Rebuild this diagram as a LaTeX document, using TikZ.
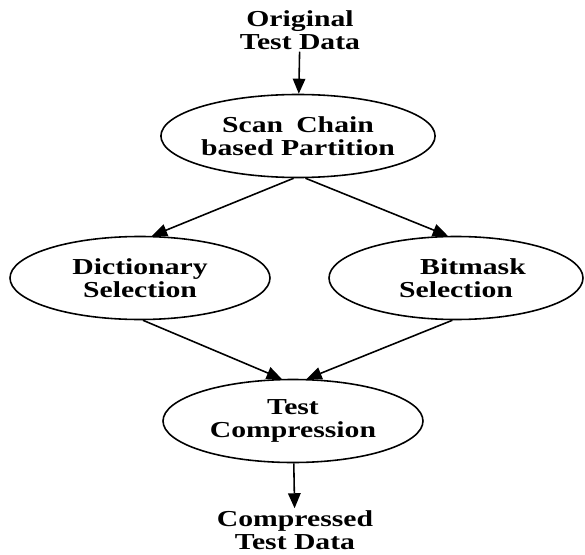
\documentclass[tikz,border=0pt]{standalone}
\usepackage{fontspec}
\setmainfont{Liberation Serif}[FakeStretch=1.3]
\usepackage{tikz}
\usetikzlibrary{arrows.meta,shapes.geometric,positioning}
\tikzset{
    stage/.style={
    ellipse,draw=black,line width=0.9pt,minimum width=5.2cm,minimum height=1.66cm,
    inner sep=0pt,align=center,font=\bfseries\fontsize{13}{13.2}\selectfont
    },
    datatext/.style={
    align=center,inner sep=1pt,font=\bfseries\fontsize{13}{13.2}\selectfont
    },
    flow/.style={
    line width=0.9pt,-{Triangle[length=0.3cm,width=0.25cm]}
    },
}
\begin{document}
\begin{tikzpicture}
  \useasboundingbox (0,0) rectangle (11.7,11.08);
  \node[datatext] (IN) at (6.0,10.48) {Original\\Test Data};
  \node[stage] (SCAN) at (5.96,8.36) {Scan\hspace{0.25em} Chain\\based Partition};
  \node[stage] (DICT) at (2.8,5.52) {Dictionary\\Selection};
  \node[stage,minimum width=5.08cm] (BMASK) at (9.12,5.52) {\hspace*{0.68cm}Bitmask\\Selection};
  \node[stage] (COMP) at (5.86,2.66) {Test\\Compression};
  \node[datatext] (OUT) at (5.9,0.48) {Compressed\\Test Data};

  \path[flow]
    (IN) edge (SCAN)
    (SCAN.-96) edge (DICT.74)
    (SCAN.-80) edge (BMASK.101)
    (DICT.-86) edge (COMP.105)
    (BMASK.-95) edge (COMP.72)
    (COMP) edge (OUT);

\end{tikzpicture}
\end{document}
